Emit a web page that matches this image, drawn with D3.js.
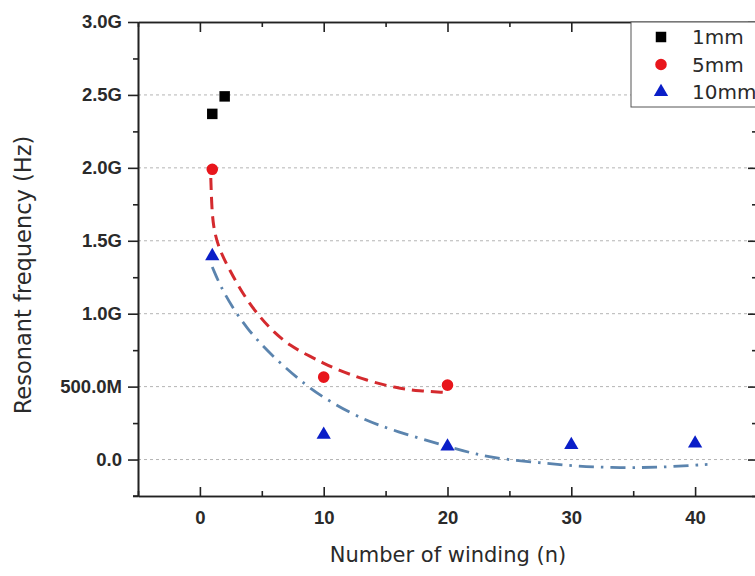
<!DOCTYPE html>
<html>
<head>
<meta charset="utf-8">
<script src="https://cdn.jsdelivr.net/npm/d3@7/dist/d3.min.js"></script>
<style>
body { margin: 0; background: #fff; }
svg { display: block; font-family: 'DejaVu Sans', 'Liberation Sans', sans-serif; }
.axis path, .axis line { stroke: #222; stroke-width: 1.6; }
.axis text { font-weight: bold; font-size: 18.5px; fill: #2a2a2a; }
.grid line { stroke: #b4b4b4; stroke-width: 1; stroke-dasharray: 3,3; }
.title { font-size: 21px; fill: #2a2a2a; }
.legend text { font-size: 20px; fill: #2a2a2a; }
</style>
</head>
<body>
<svg id="chart" width="755" height="576"></svg>
<script>
// measured points
const windings1mm = [1, 2];
const freq1mm = [2.37e9, 2.49e9];
const windings5mm = [1, 10, 20];
const freq5mm = [1.99e9, 0.565e9, 0.51e9];
const windings10mm = [1, 10, 20, 30, 40];
const freq10mm = [1.395e9, 0.17e9, 0.09e9, 0.10e9, 0.11e9];

// fitted curves
const fit5mmX = [0.88, 0.95, 1.07, 1.5, 2.4, 3.5, 4.8, 6.0, 7.3, 8.6, 10, 11, 13.5, 15.9, 17.7, 19.8];
const fit5mmY = [1.93e9, 1.75e9, 1.60e9, 1.45e9, 1.30e9, 1.13e9, 0.98e9, 0.87e9, 0.78e9, 0.72e9, 0.66e9, 0.62e9, 0.54e9, 0.49e9, 0.47e9, 0.46e9];
const fit10mmX = [1, 1.9, 3.8, 6.2, 8.7, 9.9, 12.7, 15.9, 20, 22.3, 24.7, 27.4, 30, 34, 37.7, 41];
const fit10mmY = [1.32e9, 1.14e9, 0.89e9, 0.68e9, 0.50e9, 0.43e9, 0.29e9, 0.19e9, 0.09e9, 0.035e9, 0.0, -0.02e9, -0.045e9, -0.058e9, -0.052e9, -0.033e9];

const xMajor = [0, 10, 20, 30, 40];
const xMinor = [-5, 5, 15, 25, 35, 45];
const yMajor = [0, 0.5e9, 1.0e9, 1.5e9, 2.0e9, 2.5e9, 3.0e9];
const yTickLabels = ['0.0', '500.0M', '1.0G', '1.5G', '2.0G', '2.5G', '3.0G'];
const yMinor = [-0.25e9, 0.25e9, 0.75e9, 1.25e9, 1.75e9, 2.25e9, 2.75e9];

const seriesNames = ['1mm', '5mm', '10mm'];
const seriesColors = ['#000000', '#e8161c', '#0a1ec8'];

const svg = d3.select('#chart');

const x = d3.scaleLinear().domain([-5, 45]).range([138, 757]);
const y = d3.scaleLinear().domain([-0.25e9, 3.0e9]).range([496, 22]);

// grid
svg.append('g')
    .attr('class', 'grid')
    .selectAll('line')
    .data(yMajor.slice(0, 6))
    .join('line')
    .attr('x1', x.range()[0])
    .attr('x2', x.range()[1])
    .attr('y1', function(d) { return y(d); })
    .attr('y2', function(d) { return y(d); });

// axes
svg.append('g')
    .attr('class', 'axis')
    .attr('transform', 'translate(0,' + y.range()[0] + ')')
    .call(d3.axisBottom(x).tickValues(xMajor).tickSizeInner(-9).tickSizeOuter(0).tickPadding(15)
        .tickFormat(function(d) { return d; }));
svg.append('g')
    .attr('class', 'axis')
    .attr('transform', 'translate(0,' + y.range()[0] + ')')
    .call(d3.axisBottom(x).tickValues(xMinor).tickSizeInner(-5).tickSizeOuter(0).tickFormat(''));
svg.append('g')
    .attr('class', 'axis')
    .attr('transform', 'translate(0,' + y.range()[1] + ')')
    .call(d3.axisTop(x).tickValues(xMajor).tickSizeInner(-10).tickSizeOuter(0).tickFormat(''));
svg.append('g')
    .attr('class', 'axis')
    .attr('transform', 'translate(0,' + y.range()[1] + ')')
    .call(d3.axisTop(x).tickValues(xMinor).tickSizeInner(-5).tickSizeOuter(0).tickFormat(''));

svg.append('g')
    .attr('class', 'axis')
    .attr('transform', 'translate(' + x.range()[0] + ',0)')
    .call(d3.axisLeft(y).tickValues(yMajor).tickSize(10).tickSizeOuter(0).tickPadding(6)
        .tickFormat(function(d, i) { return yTickLabels[i]; }));
svg.append('g')
    .attr('class', 'axis')
    .attr('transform', 'translate(' + x.range()[0] + ',0)')
    .call(d3.axisLeft(y).tickValues(yMinor).tickSize(5).tickSizeOuter(0).tickFormat(''));
svg.append('g')
    .attr('class', 'axis')
    .attr('transform', 'translate(' + x.range()[1] + ',0)')
    .call(d3.axisRight(y).tickValues(yMajor).tickSizeInner(-9).tickSizeOuter(0).tickFormat(''));
svg.append('g')
    .attr('class', 'axis')
    .attr('transform', 'translate(' + x.range()[1] + ',0)')
    .call(d3.axisRight(y).tickValues(yMinor).tickSizeInner(-5).tickSizeOuter(0).tickFormat(''));

// bottom line pokes out a little on the left
svg.append('line')
    .attr('x1', 133).attr('x2', x.range()[0])
    .attr('y1', y.range()[0]).attr('y2', y.range()[0])
    .attr('stroke', '#222').attr('stroke-width', 1.6);

// fit curves
const fitLine = d3.line()
    .x(function(d) { return x(d[0]); })
    .y(function(d) { return y(d[1]); })
    .curve(d3.curveBasis);

svg.append('path')
    .datum(d3.zip(fit5mmX, fit5mmY))
    .attr('d', fitLine)
    .attr('fill', 'none')
    .attr('stroke', '#d42a2e')
    .attr('stroke-width', 3)
    .attr('stroke-dasharray', '12,7');

svg.append('path')
    .datum(d3.zip(fit10mmX, fit10mmY))
    .attr('d', fitLine)
    .attr('fill', 'none')
    .attr('stroke', '#5b84ae')
    .attr('stroke-width', 2.8)
    .attr('stroke-dasharray', '15,7,2.5,7');

// markers
const symSquare = d3.symbol().type(d3.symbolSquare).size(110);
const symCircle = d3.symbol().type(d3.symbolCircle).size(105);
const symTriangle = d3.symbol().type(d3.symbolTriangle).size(88);
const symbols = [symSquare, symCircle, symTriangle];

const series = [
    d3.zip(windings1mm, freq1mm),
    d3.zip(windings5mm, freq5mm),
    d3.zip(windings10mm, freq10mm)
];

series.forEach(function(pts, k) {
    svg.append('g')
        .selectAll('path')
        .data(pts)
        .join('path')
        .attr('transform', function(d) { return 'translate(' + x(d[0]) + ',' + y(d[1]) + ')'; })
        .attr('d', symbols[k])
        .attr('fill', seriesColors[k]);
});

// legend
const legend = svg.append('g').attr('class', 'legend');
legend.append('rect')
    .attr('x', 631).attr('y', 22)
    .attr('width', 160).attr('height', 85)
    .attr('fill', '#fff')
    .attr('stroke', '#555')
    .attr('stroke-width', 1);

const legendItems = legend.selectAll('g.item')
    .data(seriesNames)
    .join('g')
    .attr('class', 'item')
    .attr('transform', function(d, i) { return 'translate(661,' + (37 + i * 27.5) + ')'; });
legendItems.append('path')
    .attr('d', function(d, i) { return symbols[i](); })
    .attr('fill', function(d, i) { return seriesColors[i]; });
legendItems.append('text')
    .attr('x', 31)
    .attr('y', 7)
    .text(function(d) { return d; });

// titles
svg.append('text')
    .attr('class', 'title')
    .attr('x', 448)
    .attr('y', 562)
    .attr('text-anchor', 'middle')
    .text('Number of winding (n)');

svg.append('text')
    .attr('class', 'title')
    .attr('transform', 'translate(31,275) rotate(-90)')
    .attr('text-anchor', 'middle')
    .style('font-size', '22.5px')
    .text('Resonant frequency (Hz)');
</script>
</body>
</html>
